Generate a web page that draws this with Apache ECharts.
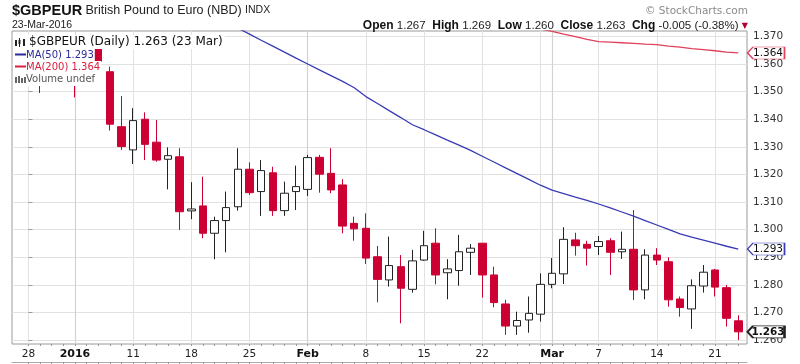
<!DOCTYPE html>
<html><head><meta charset="utf-8">
<script src="https://cdn.jsdelivr.net/npm/echarts@6/dist/echarts.min.js"></script>
<style>html,body{margin:0;padding:0;background:#fff}#c{width:800px;height:364px}</style>
</head><body><div id="c"></div>
<script>
// ---- data ----
const dates = ['Dec 28','Dec 29','Dec 30','Dec 31','Jan 4','Jan 5','Jan 6','Jan 7','Jan 8',
 'Jan 11','Jan 12','Jan 13','Jan 14','Jan 15','Jan 18','Jan 19','Jan 20','Jan 21','Jan 22',
 'Jan 25','Jan 26','Jan 27','Jan 28','Jan 29','Feb 1','Feb 2','Feb 3','Feb 4','Feb 5',
 'Feb 8','Feb 9','Feb 10','Feb 11','Feb 12','Feb 15','Feb 16','Feb 17','Feb 18','Feb 19',
 'Feb 22','Feb 23','Feb 24','Feb 25','Feb 26','Feb 29','Mar 1','Mar 2','Mar 3','Mar 4',
 'Mar 7','Mar 8','Mar 9','Mar 10','Mar 11','Mar 14','Mar 15','Mar 16','Mar 17','Mar 18',
 'Mar 21','Mar 22','Mar 23'];
const opens = [1.3590,1.3600,1.3545,1.3565,1.3570,1.3540,1.3655,1.3572,1.3373,
 1.3289,1.3400,1.3317,1.3255,1.3264,1.3068,1.3086,1.2987,1.3033,1.3083,
 1.3219,1.3138,1.3206,1.3069,1.3138,1.3146,1.3262,1.3204,1.3162,1.3023,
 1.3005,1.2902,1.2818,1.2866,1.2784,1.2890,1.2951,1.2844,1.2852,1.2918,
 1.2951,1.2836,1.2731,1.2651,1.2673,1.2694,1.2802,1.2840,1.2963,1.2947,
 1.2939,1.2960,1.2920,1.2929,1.2782,1.2908,1.2884,1.2749,1.2713,1.2796,
 1.2854,1.2790,1.2670];
const highs = [1.3625,1.3620,1.3580,1.3600,1.3585,1.3660,1.3680,1.3590,1.3484,
 1.3440,1.3425,1.3397,1.3298,1.3295,1.3172,1.3192,1.3047,1.3138,1.3295,
 1.3244,1.3252,1.3228,1.3174,1.3232,1.3271,1.3271,1.3295,1.3183,1.3047,
 1.3059,1.2941,1.2975,1.2908,1.2927,1.2996,1.3005,1.2893,1.2981,1.2948,
 1.2951,1.2866,1.2746,1.2703,1.2758,1.2842,1.2897,1.3009,1.2989,1.2960,
 1.2977,1.2969,1.2993,1.3071,1.2929,1.2933,1.2900,1.2758,1.2820,1.2872,
 1.2858,1.2800,1.2690];
const lows = [1.3560,1.3495,1.3530,1.3535,1.3479,1.3535,1.3575,1.3359,1.3289,
 1.3238,1.3252,1.3246,1.3146,1.2999,1.3038,1.2969,1.2893,1.2918,1.3069,
 1.3126,1.3050,1.3050,1.3050,1.3071,1.3122,1.3134,1.3132,1.2987,1.2960,
 1.2876,1.2737,1.2794,1.2661,1.2772,1.2887,1.2802,1.2748,1.2797,1.2836,
 1.2754,1.2719,1.2619,1.2619,1.2627,1.2667,1.2788,1.2803,1.2906,1.2870,
 1.2908,1.2836,1.2894,1.2745,1.2748,1.2872,1.2721,1.2685,1.2641,1.2772,
 1.2758,1.2649,1.2600];
const closes = [1.3600,1.3545,1.3565,1.3570,1.3540,1.3650,1.3610,1.3382,1.3301,
 1.3395,1.3309,1.3252,1.3268,1.3065,1.3075,1.2987,1.3033,1.3080,1.3219,
 1.3134,1.3214,1.3069,1.3132,1.3156,1.3261,1.3201,1.3144,1.3013,1.3003,
 1.2897,1.2820,1.2870,1.2788,1.2887,1.2942,1.2836,1.2858,1.2920,1.2933,
 1.2836,1.2736,1.2651,1.2671,1.2697,1.2802,1.2842,1.2965,1.2942,1.2933,
 1.2957,1.2918,1.2929,1.2782,1.2908,1.2890,1.2746,1.2718,1.2797,1.2846,
 1.2792,1.2679,1.2630];
const ma50Start = 17;
const ma50Values = [1.3755,1.3730,1.3708,1.3686,1.3665,1.3643,1.3621,1.3600,1.3579,1.3558,
 1.3537,1.3514,1.3482,1.3457,1.3431,1.3406,1.3380,1.3362,1.3343,1.3324,1.3306,1.3287,
 1.3266,1.3245,1.3224,1.3203,1.3182,1.3161,1.3143,1.3131,1.3118,1.3106,1.3093,1.3079,
 1.3064,1.3049,1.3033,1.3017,1.3001,1.2985,1.2973,1.2962,1.2951,1.2940,1.2930];
const ma200Start = 44;
const ma200Values = [1.3727,1.3718,1.3708,1.3699,1.3689,1.3681,1.3679,1.3677,1.3675,
 1.3672,1.3670,1.3665,1.3661,1.3656,1.3652,1.3648,1.3643,1.3640];
const yTicks = [1.26,1.27,1.28,1.29,1.30,1.31,1.32,1.33,1.34,1.35,1.36,1.37];
const weekStarts = [0,4,9,14,19,24,29,34,39,44,49,54,59];
const monthStarts = [4,24,45];
const xLabelIdx = [0,4,9,14,19,24,29,34,39,45,49,54,59];
const xLabelText = ['28','2016','11','18','25','Feb','8','15','22','Mar','7','14','21'];
const boldLabels = ['2016','Feb','Mar'];
const ma50Last = 1.293, ma200Last = 1.364;

// ---- chart ----
const xMin = -1.41, xMax = 61.75;
const yMin = 1.2586, yMax = 1.37195;
const RED = '#cc0033', BLUE = '#3a3ab4', MARED = '#e0405a';
const dayIdx = dates.map((d, i) => i);
const candles = dates.map((d, i) => [i, opens[i], closes[i], lows[i], highs[i]]);
const ma50 = ma50Values.map((v, k) => [ma50Start + k, v]);
const ma200 = ma200Values.map((v, k) => [ma200Start + k, v]);
const last = dates.length - 1;

const tagPath = 'path://M0,6 L6,0 L40,0 L40,12 L6,12 Z';
function tag(coordY, text, border, bold) {
  return {
    coord: [xMax, coordY],
    symbol: tagPath, symbolSize: [37, 12], symbolOffset: [19, 0],
    itemStyle: { color: '#fff', borderColor: border, borderWidth: bold ? 1.5 : 1 },
    label: { show: true, position: 'inside', offset: [2, 0], formatter: text,
      color: '#111', fontSize: 10.5, fontFamily: 'DejaVu Sans', fontWeight: bold ? 'bold' : 'normal' }
  };
}

const baseX = {
  type: 'value', gridIndex: 0, min: xMin, max: xMax, position: 'bottom',
  axisLine: { show: false, onZero: false }, axisLabel: { show: false },
  axisTick: { show: false }, splitLine: { show: false }
};

const option = {
  animation: false,
  backgroundColor: '#fff',
  grid: [
    { left: 12, right: 53, top: 31, height: 313, show: true, borderColor: '#9a9a9a', borderWidth: 1, backgroundColor: 'transparent' },
    { left: 12, right: 53, top: 362, height: 40, show: false }
  ],
  xAxis: [
    Object.assign({}, baseX, {
      axisTick: { show: false, customValues: weekStarts },
      splitLine: { show: true, lineStyle: { color: '#e2e2e2', width: 1 } },
      axisLabel: { show: true, customValues: xLabelIdx, margin: 5, color: '#222',
        fontFamily: 'DejaVu Sans', fontSize: 10.5,
        formatter: (v) => { const t = xLabelText[xLabelIdx.indexOf(Math.round(v))] || '';
          return boldLabels.indexOf(t) >= 0 ? '{b|' + t + '}' : t; },
        rich: { b: { fontWeight: 'bold', fontSize: 11, fontFamily: 'DejaVu Sans', color: '#111' } } }
    }),
    Object.assign({}, baseX, {
      axisTick: { show: false, customValues: monthStarts },
      splitLine: { show: true, lineStyle: { color: '#d2d2d2', width: 1.2 } }
    }),
    Object.assign({}, baseX, {
      axisTick: { show: true, customValues: dayIdx, length: 2, inside: false, lineStyle: { color: '#999' } }
    }),
    Object.assign({}, baseX, { gridIndex: 1, position: 'top',
      axisLine: { show: true, onZero: false, lineStyle: { color: '#aaa' } },
      axisTick: { show: true, customValues: dayIdx, length: 2, inside: true, lineStyle: { color: '#999' } }
    })
  ],
  yAxis: [
    { type: 'value', gridIndex: 0, position: 'right', min: yMin, max: yMax,
      axisLine: { show: false },
      axisTick: { show: true, customValues: yTicks, length: 4, lineStyle: { color: '#999' } },
      splitLine: { show: true, lineStyle: { color: '#e2e2e2' } },
      axisLabel: { show: true, customValues: yTicks, margin: 6, color: '#333', fontFamily: 'DejaVu Sans', fontSize: 10.5,
        formatter: (v) => v.toFixed(3) } },
    { type: 'value', gridIndex: 1, position: 'right', min: 0, max: 1,
      axisLine: { show: false }, axisTick: { show: false }, splitLine: { show: false }, axisLabel: { show: false } }
  ],
  series: [
    { type: 'candlestick', xAxisIndex: 0, yAxisIndex: 0, data: candles, encode: { x: 0, y: [1, 2, 3, 4] },
      barWidth: 8, clip: true,
      itemStyle: { color: '#fff', borderColor: '#222', color0: RED, borderColor0: RED, borderWidth: 1 },
      z: 3 },
    { type: 'line', xAxisIndex: 0, yAxisIndex: 0, data: ma50, showSymbol: false, clip: true,
      lineStyle: { color: BLUE, width: 1.3 }, z: 4,
      markPoint: { silent: true, data: [tag(ma50Last, ma50Last.toFixed(3), BLUE, false),
        tag(closes[last], closes[last].toFixed(3), '#222', true)] } },
    { type: 'line', xAxisIndex: 0, yAxisIndex: 0, data: ma200, showSymbol: false, clip: true,
      lineStyle: { color: MARED, width: 1.3 }, z: 4,
      markPoint: { silent: true, data: [tag(ma200Last, ma200Last.toFixed(3), MARED, false)] } }
  ],
  graphic: [
    // header
    { type: 'text', left: 12, top: 3, z: 100, style: {
      text: '{t|$GBPEUR} {s|British Pound to Euro (NBD)} {x|INDX}',
      rich: { t: { fontFamily: 'Liberation Sans', fontWeight: 'bold', fontSize: 14.5, fill: '#111' },
              s: { fontFamily: 'Liberation Sans', fontSize: 12.5, fill: '#222' },
              x: { fontFamily: 'Liberation Sans', fontSize: 10.5, fill: '#222' } } } },
    { type: 'text', left: 12, top: 20, z: 100, style: { text: '23-Mar-2016', fontFamily: 'Liberation Sans', fontSize: 10.5, fill: '#222' } },
    { type: 'text', right: 52, top: 20, z: 100, style: {
      text: '{b|Open} {n|' + opens[last].toFixed(3) + '}  {b|High} {n|' + highs[last].toFixed(3) + '}  {b|Low} {n|' + lows[last].toFixed(3) +
        '}  {b|Close} {n|' + closes[last].toFixed(3) + '}  {b|Chg} {n|-0.005 (-0.38%)} {r|▼}',
      rich: { b: { fontFamily: 'Liberation Sans', fontWeight: 'bold', fontSize: 12, fill: '#111' },
              n: { fontFamily: 'Liberation Sans', fontSize: 11.5, fill: '#222' },
              r: { fontFamily: 'DejaVu Sans', fontSize: 8, fill: '#b00030' } } } },
    { type: 'text', right: 52, top: 6, z: 100, style: { text: '© StockCharts.com', fontFamily: 'DejaVu Sans', fontSize: 10.5, fill: '#8a8a8a' } },
    // legend (opaque backgrounds over the plot)
    { type: 'text', x: 13, y: 35, z: 100, style: { text: '$GBPEUR (Daily) ' + closes[last].toFixed(3) + ' (23 Mar)',
      fontFamily: 'DejaVu Sans', fontSize: 12, fill: '#111', backgroundColor: '#fff', padding: [1, 2, 1, 16] } },
    { type: 'text', x: 13, y: 49, z: 100, style: { text: 'MA(50) ' + ma50Last.toFixed(3),
      fontFamily: 'DejaVu Sans', fontSize: 10, fill: '#2a2a9a', backgroundColor: '#fff', padding: [1, 1, 1, 13] } },
    { type: 'text', x: 13, y: 61, z: 100, style: { text: 'MA(200) ' + ma200Last.toFixed(3),
      fontFamily: 'DejaVu Sans', fontSize: 10, fill: '#d8203f', backgroundColor: '#fff', padding: [1, 1, 1, 13] } },
    { type: 'text', x: 13, y: 73, z: 100, style: { text: 'Volume undef',
      fontFamily: 'DejaVu Sans', fontSize: 10, fill: '#555', backgroundColor: '#fff', padding: [1, 1, 2, 13] } },
    // legend icons
    { type: 'rect', z: 101, shape: { x: 15, y: 40, width: 2, height: 6 }, style: { fill: '#222' } },
    { type: 'line', z: 101, shape: { x1: 19.5, y1: 38, x2: 19.5, y2: 47 }, style: { stroke: '#222', lineWidth: 1 } },
    { type: 'rect', z: 101, shape: { x: 18.5, y: 40, width: 2, height: 4 }, style: { fill: '#222' } },
    { type: 'rect', z: 101, shape: { x: 23, y: 39, width: 2, height: 7 }, style: { fill: '#222' } },
    { type: 'line', z: 101, shape: { x1: 15, y1: 54.5, x2: 26, y2: 54.5 }, style: { stroke: '#2a2a9a', lineWidth: 2 } },
    { type: 'line', z: 101, shape: { x1: 15, y1: 66.5, x2: 26, y2: 66.5 }, style: { stroke: '#d8203f', lineWidth: 2 } },
    { type: 'rect', z: 101, shape: { x: 15, y: 77, width: 2, height: 6 }, style: { fill: '#666' } },
    { type: 'rect', z: 101, shape: { x: 18, y: 76, width: 2, height: 7 }, style: { fill: '#666' } },
    { type: 'rect', z: 101, shape: { x: 21, y: 78, width: 2, height: 5 }, style: { fill: '#666' } },
    { type: 'rect', z: 101, shape: { x: 24, y: 77, width: 2, height: 6 }, style: { fill: '#666' } }
  ]
};
const chart = echarts.init(document.getElementById('c'), null, { renderer: 'canvas', width: 800, height: 364 });
chart.setOption(option);
</script>
</body></html>
